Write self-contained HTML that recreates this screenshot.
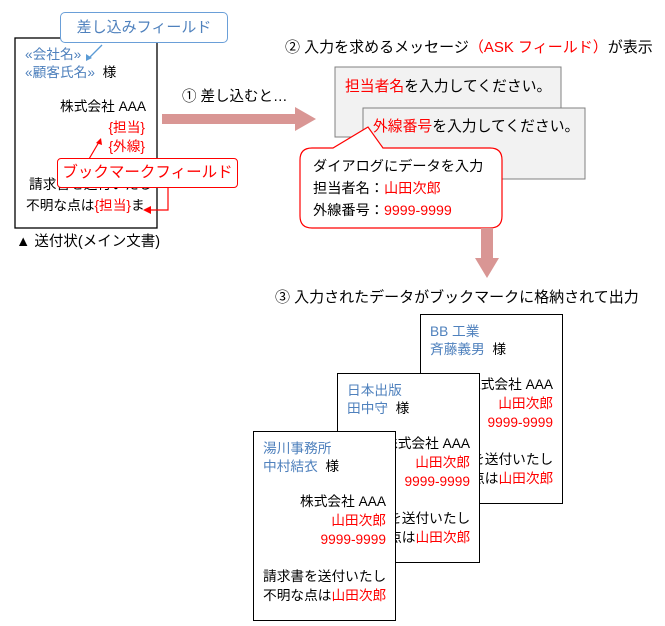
<!DOCTYPE html>
<html><head><meta charset="utf-8"><style>
body{margin:0;width:665px;height:626px;background:#fff;position:relative;overflow:hidden;font-family:"Liberation Sans","Noto Sans CJK JP",sans-serif;font-size:13.7px;color:#000}
.a{position:absolute;white-space:nowrap;line-height:16px}
.r{color:#f00}.b{color:#4f81bd}
.doc{position:absolute;width:141px;height:188px;border:1.3px solid #000;background:#fff}
.doc .a{position:absolute}
</style></head><body>
<svg width="665" height="626" style="position:absolute;left:0;top:0">
<rect x="15" y="38" width="142" height="190" fill="#fff" stroke="#000" stroke-width="1.3"/>
<polygon points="162,114 295,114 295,107 316,119 295,131 295,124 162,124" fill="#d99694"/>
<rect x="335" y="67" width="226" height="70" fill="#f2f2f2" stroke="#808080"/>
<rect x="363" y="108" width="222" height="71" fill="#f2f2f2" stroke="#808080"/>
<path d="M312,148 L333,148 L368,127 L383,148 L490,148 Q502,148 502,160 L502,216 Q502,228 490,228 L312,228 Q300,228 300,216 L300,160 Q300,148 312,148 Z" fill="#fff" stroke="#f00" stroke-width="1.2"/>
<polygon points="481,228 493,228 493,258 499,258 487,278 475,258 481,258" fill="#d99694"/>
<line x1="102" y1="45" x2="88" y2="59" stroke="#5b9bd5" stroke-width="1.3"/>
<polygon points="86,61 86,54 92,58" fill="#5b9bd5"/>
<line x1="89" y1="159" x2="99" y2="142" stroke="#f00" stroke-width="1.2"/>
<polygon points="101,138 96,143 102,145" fill="#f00"/>
<polyline points="168,187 168,210 150,210" fill="none" stroke="#f00" stroke-width="1.2"/>
<polygon points="143,210 151,206 151,214" fill="#f00"/>
</svg>
<div class="a b" style="left:25px;top:47px">«会社名»</div>
<div class="a" style="left:25px;top:65px"><span class="b">«顧客氏名»</span>&nbsp; 様</div>
<div class="a" style="right:519px;top:99px">株式会社 AAA</div>
<div class="a r" style="right:520px;top:120px">{担当}</div>
<div class="a r" style="right:520px;top:139px">{外線}</div>
<div class="a" style="left:29px;top:177px">請求書を送付いたし</div>
<div class="a" style="left:26px;top:198px">不明な点は<span class="r">{担当}</span>ま</div>
<div class="a" style="left:60px;top:12px;width:166px;height:29px;border:1.3px solid #6a9fd8;border-radius:5px;background:#fff;color:#4f81bd;font-size:15px;line-height:29px;text-align:center">差し込みフィールド</div>
<div class="a" style="left:57px;top:158px;width:179px;height:28px;border:1.3px solid #f00;border-radius:4px;background:#fff;color:#f00;font-size:15.5px;line-height:28px;text-align:center">ブックマークフィールド</div>
<div class="a" style="left:16px;top:234px;font-size:14.5px">▲ 送付状(メイン文書)</div>
<div class="a" style="left:182px;top:89px;font-size:14.5px">① 差し込むと…</div>
<div class="a" style="left:285px;top:40px;font-size:15px">② 入力を求めるメッセージ<span class="r">（ASK フィールド）</span>が表示</div>
<div class="a" style="left:345px;top:79px;font-size:14.8px"><span class="r">担当者名</span>を入力してください。</div>
<div class="a" style="left:373px;top:119px;font-size:14.8px"><span class="r">外線番号</span>を入力してください。</div>
<div class="a" style="left:313px;top:159px;font-size:14.2px">ダイアログにデータを入力</div>
<div class="a" style="left:313px;top:181px;font-size:14.2px">担当者名：<span class="r">山田次郎</span></div>
<div class="a" style="left:313px;top:203px;font-size:14.2px">外線番号：<span class="r">9999-9999</span></div>
<div class="a" style="left:275px;top:290px;font-size:15px">③ 入力されたデータがブックマークに格納されて出力</div>

<div class="doc" style="left:420px;top:314px">
<div class="a b" style="left:9px;top:9px">BB 工業</div>
<div class="a" style="left:9px;top:27px"><span class="b">斉藤義男</span>&nbsp; 様</div>
<div class="a" style="right:9px;top:62px">株式会社 AAA</div>
<div class="a r" style="right:9px;top:81px">山田次郎</div>
<div class="a r" style="right:9px;top:100px">9999-9999</div>
<div class="a" style="left:9px;top:137px">請求書を送付いたし</div>
<div class="a" style="left:9px;top:156px">不明な点は<span class="r">山田次郎</span></div>
</div>
<div class="doc" style="left:337px;top:373px">
<div class="a b" style="left:9px;top:9px">日本出版</div>
<div class="a" style="left:9px;top:27px"><span class="b">田中守</span>&nbsp; 様</div>
<div class="a" style="right:9px;top:62px">株式会社 AAA</div>
<div class="a r" style="right:9px;top:81px">山田次郎</div>
<div class="a r" style="right:9px;top:100px">9999-9999</div>
<div class="a" style="left:9px;top:137px">請求書を送付いたし</div>
<div class="a" style="left:9px;top:156px">不明な点は<span class="r">山田次郎</span></div>
</div>
<div class="doc" style="left:253px;top:431px">
<div class="a b" style="left:9px;top:9px">湯川事務所</div>
<div class="a" style="left:9px;top:27px"><span class="b">中村結衣</span>&nbsp; 様</div>
<div class="a" style="right:9px;top:62px">株式会社 AAA</div>
<div class="a r" style="right:9px;top:81px">山田次郎</div>
<div class="a r" style="right:9px;top:100px">9999-9999</div>
<div class="a" style="left:9px;top:137px">請求書を送付いたし</div>
<div class="a" style="left:9px;top:156px">不明な点は<span class="r">山田次郎</span></div>
</div>
</body></html>
